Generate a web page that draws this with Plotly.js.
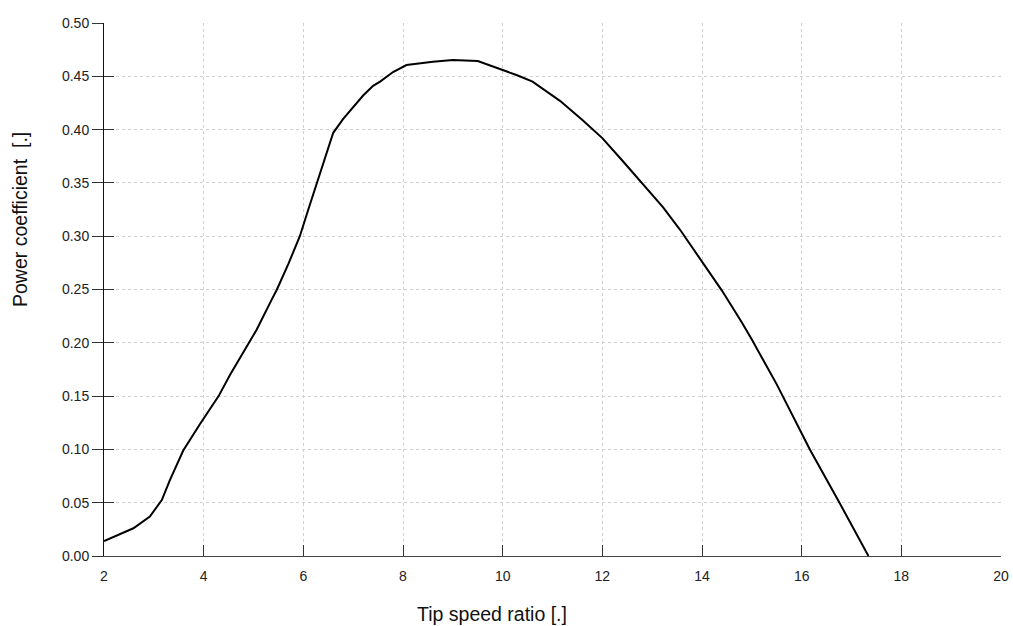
<!DOCTYPE html>
<html>
<head>
<meta charset="utf-8">
<script src="https://cdn.plot.ly/plotly-3.0.1.min.js"></script>
<style>html,body{margin:0;padding:0;background:#fff;}#chart{width:1013px;height:626px;}</style>
</head>
<body>
<div id="chart"></div>
<script>
var tsr = [2.0, 2.19, 2.59, 2.92, 3.02, 3.16, 3.32, 3.59, 3.93, 4.0, 4.30, 4.53, 4.90, 5.06, 5.36, 5.47, 5.7, 5.93, 6.1, 6.27, 6.45, 6.6, 6.8, 6.98, 7.2, 7.4, 7.54, 7.8, 8.07, 8.6, 9.0, 9.5, 10.0, 10.29, 10.6, 10.75, 11.15, 11.6, 12.0, 12.4, 12.9, 13.22, 13.56, 14.0, 14.4, 14.8, 15.0, 15.5, 15.77, 16.07, 16.17, 16.77, 17.34];
var cp  = [0.014, 0.018, 0.026, 0.037, 0.043, 0.0525, 0.071, 0.099, 0.124, 0.129, 0.150, 0.170, 0.200, 0.212, 0.240, 0.250, 0.274, 0.300, 0.325, 0.350, 0.375, 0.397, 0.410, 0.420, 0.432, 0.441, 0.445, 0.454, 0.4606, 0.4637, 0.4653, 0.4643, 0.456, 0.451, 0.445, 0.440, 0.427, 0.409, 0.392, 0.371, 0.344, 0.327, 0.306, 0.276, 0.249, 0.219, 0.203, 0.161, 0.136, 0.108, 0.0994, 0.049, 0.0];
var xTicks = [2, 4, 6, 8, 10, 12, 14, 16, 18, 20];
var yTicks = [0, 0.05, 0.10, 0.15, 0.20, 0.25, 0.30, 0.35, 0.40, 0.45, 0.50];
var yTickText = yTicks.map(function(v){return v.toFixed(2);});
var xTitle = 'Tip speed ratio [.]';
var yTitle = 'Power coefficient&nbsp;&nbsp;[.]';

var traces = [
  {x: tsr, y: cp, type: 'scatter', mode: 'lines', line: {color: '#000', width: 2}, hoverinfo: 'none', showlegend: false},
  {x: tsr, y: cp, type: 'scatter', mode: 'lines', yaxis: 'y2', line: {color: 'rgba(0,0,0,0)', width: 0}, hoverinfo: 'none', showlegend: false}
];

var font = {family: 'Liberation Sans, Arial, sans-serif', size: 14, color: '#222'};
var titleFont = {family: 'Liberation Sans, Arial, sans-serif', size: 19.5, color: '#111'};
var layout = {
  width: 1013, height: 626,
  margin: {l: 104, r: 12, t: 23, b: 70},
  paper_bgcolor: '#fff', plot_bgcolor: '#fff',
  font: font,
  showlegend: false,
  xaxis: {
    range: [2, 20], tickvals: xTicks, ticktext: xTicks.map(String),
    ticks: 'inside', ticklen: 11, tickwidth: 1, tickcolor: '#333',
    showline: true, linecolor: '#444', linewidth: 1,
    showgrid: true, gridcolor: '#d0d0d0', griddash: '3px,3px', gridwidth: 1,
    zeroline: false, fixedrange: true, tickfont: font, ticklabelstandoff: 7
  },
  yaxis: {
    range: [0, 0.5], tickvals: yTicks, ticktext: yTickText,
    ticks: 'outside', ticklen: 11, tickwidth: 1, tickcolor: '#333',
    showline: true, linecolor: '#111', linewidth: 1,
    showgrid: true, gridcolor: '#d0d0d0', griddash: '3px,3px', gridwidth: 1,
    zeroline: false, fixedrange: true, tickfont: font, ticklabelstandoff: 0
  },
  yaxis2: {
    overlaying: 'y', matches: 'y', side: 'left', range: [0, 0.5], tickvals: yTicks,
    ticks: 'inside', ticklen: 10, tickwidth: 1, tickcolor: '#333',
    showticklabels: false, showgrid: false, showline: false, zeroline: false, fixedrange: true
  },
  annotations: [
    {text: xTitle, xref: 'paper', yref: 'paper', x: (492 - 104) / 897, y: -58 / 533, xanchor: 'center', yanchor: 'middle', showarrow: false, font: titleFont},
    {text: yTitle, xref: 'paper', yref: 'paper', x: (20 - 104) / 897, y: (556 - 220) / 533, xanchor: 'center', yanchor: 'middle', textangle: -90, showarrow: false, font: titleFont}
  ]
};
Plotly.newPlot('chart', traces, layout, {staticPlot: true, displayModeBar: false});
</script>
</body>
</html>
